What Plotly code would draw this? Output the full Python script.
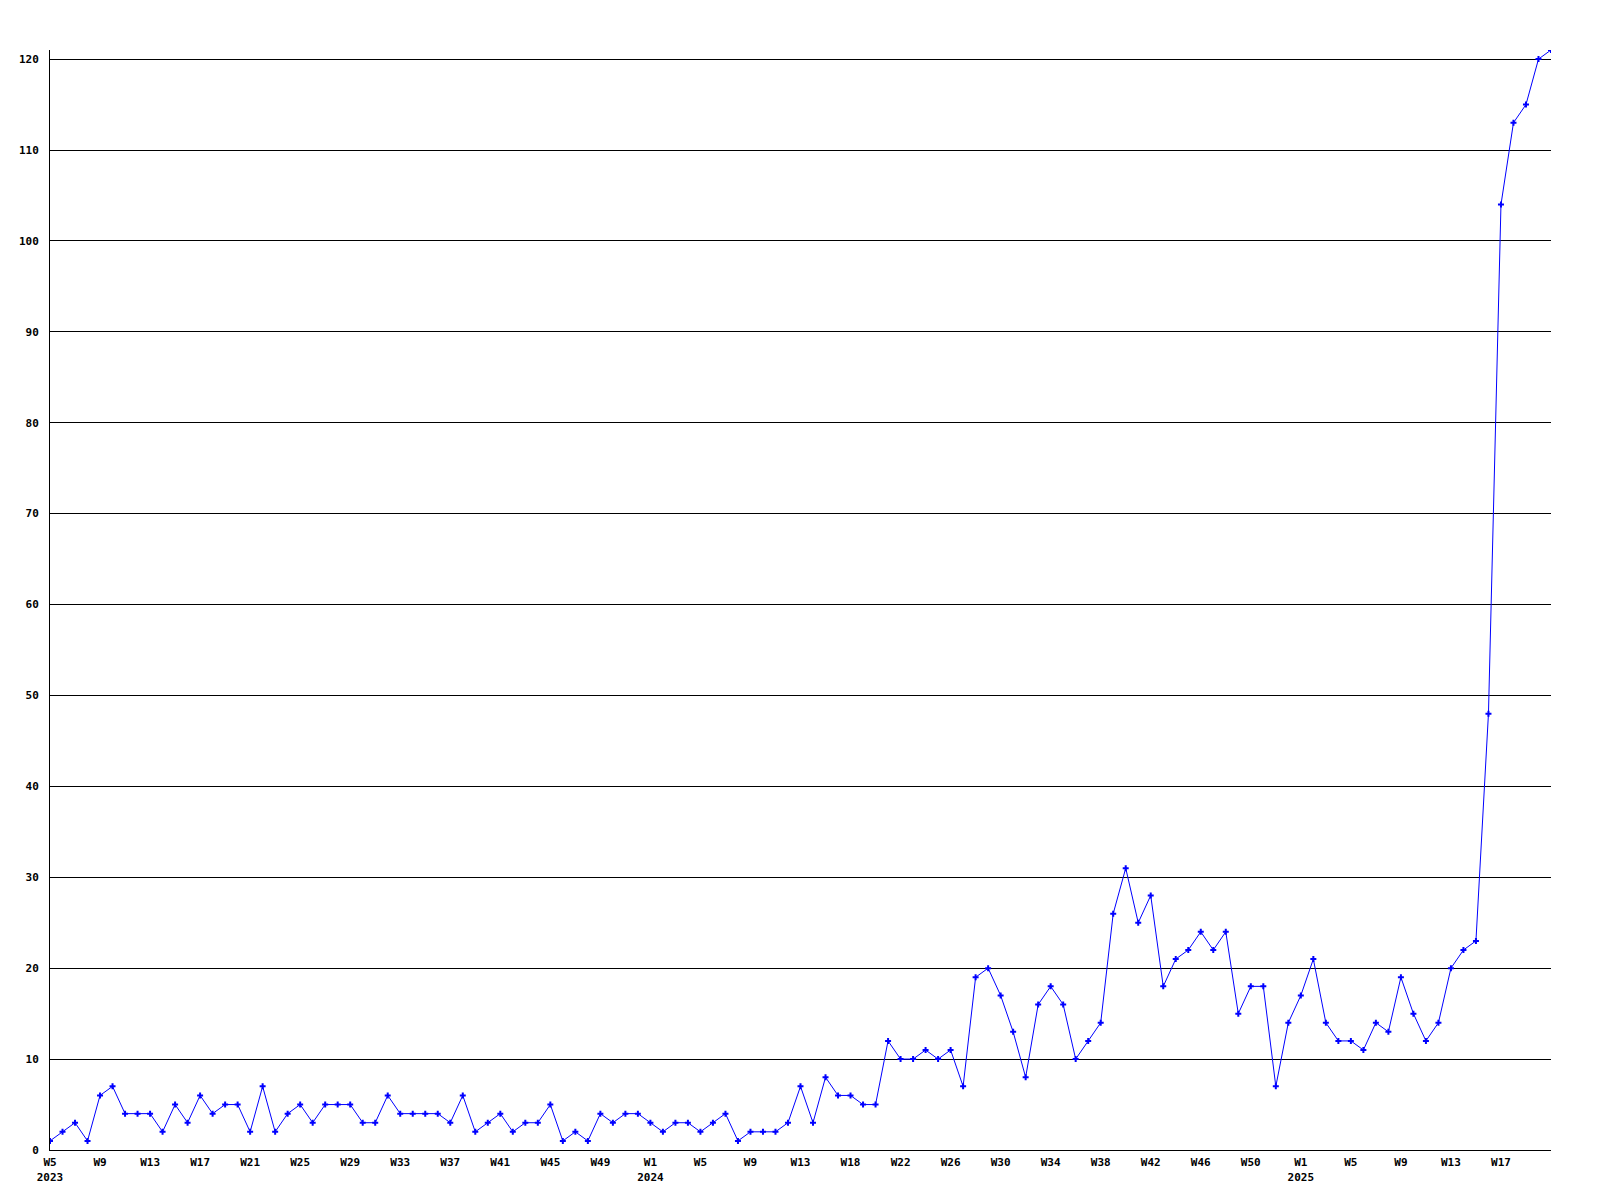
import plotly.graph_objects as go

# Weekly counts, 2023 W5 .. 2025 W21 (one value per week, in order)
values_2023 = [1, 2, 3, 1, 6, 7, 4, 4, 4, 2, 5, 3, 6, 4, 5, 5, 2, 7, 2, 4, 5, 3, 5, 5,
               5, 3, 3, 6, 4, 4, 4, 4, 3, 6, 2, 3, 4, 2, 3, 3, 5, 1, 2, 1, 4, 3, 4, 4]
values_2024 = [3, 2, 3, 3, 2, 3, 4, 1, 2, 2, 2, 3, 7, 3, 8, 6, 6, 5, 5, 12, 10, 10, 11, 10,
               11, 7, 19, 20, 17, 13, 8, 16, 18, 16, 10, 12, 14, 26, 31, 25, 28, 18, 21, 22,
               24, 22, 24, 15, 18, 18, 7, 14]
values_2025 = [17, 21, 14, 12, 12, 11, 14, 13, 19, 15, 12, 14, 20, 22, 23, 48, 104, 113, 115,
               120, 121]

values = values_2023 + values_2024 + values_2025

x_tick_labels = ["W5<br>2023", "W9", "W13", "W17", "W21", "W25", "W29", "W33", "W37",
                 "W41", "W45", "W49",
                 "W1<br>2024", "W5", "W9", "W13", "W18", "W22", "W26", "W30", "W34",
                 "W38", "W42", "W46", "W50",
                 "W1<br>2025", "W5", "W9", "W13", "W17"]
label_every = 4

y_ticks = list(range(0, 121, 10))

x = list(range(len(values)))
tick_positions = [i * label_every for i in range(len(x_tick_labels))]

font = dict(family="DejaVu Sans Mono, Liberation Mono, monospace", size=11, color="black")

fig = go.Figure()
fig.add_trace(go.Scatter(
    x=x, y=values, mode="lines+markers",
    line=dict(color="#0000ff", width=1),
    marker=dict(symbol="cross", size=5, color="#0000ff"),
    hoverinfo="y",
))

# page body has an 8px margin, so the figure is 8px smaller and offset accordingly
fig.update_layout(
    width=1592, height=1192, autosize=False,
    paper_bgcolor="white", plot_bgcolor="white",
    margin=dict(l=42, r=49, t=42, b=50),
    showlegend=False,
    font=font,
)
fig.update_xaxes(
    range=[0, len(values) - 1],
    tickmode="array", tickvals=tick_positions, ticktext=[f"<b>{t}</b>" for t in x_tick_labels],
    showgrid=False, zeroline=False,
    showline=True, linecolor="black", linewidth=1,
    ticks="", ticklabelstandoff=2,
    tickfont=font,
)
fig.update_yaxes(
    range=[0, 121],
    tickmode="array", tickvals=y_ticks, ticktext=[f"<b>{v}</b>" for v in y_ticks],
    showgrid=True, gridcolor="black", gridwidth=1,
    zeroline=False,
    showline=True, linecolor="black", linewidth=1,
    ticks="", ticklabelstandoff=8,
    tickfont=font,
)

fig.write_html("out.html")
